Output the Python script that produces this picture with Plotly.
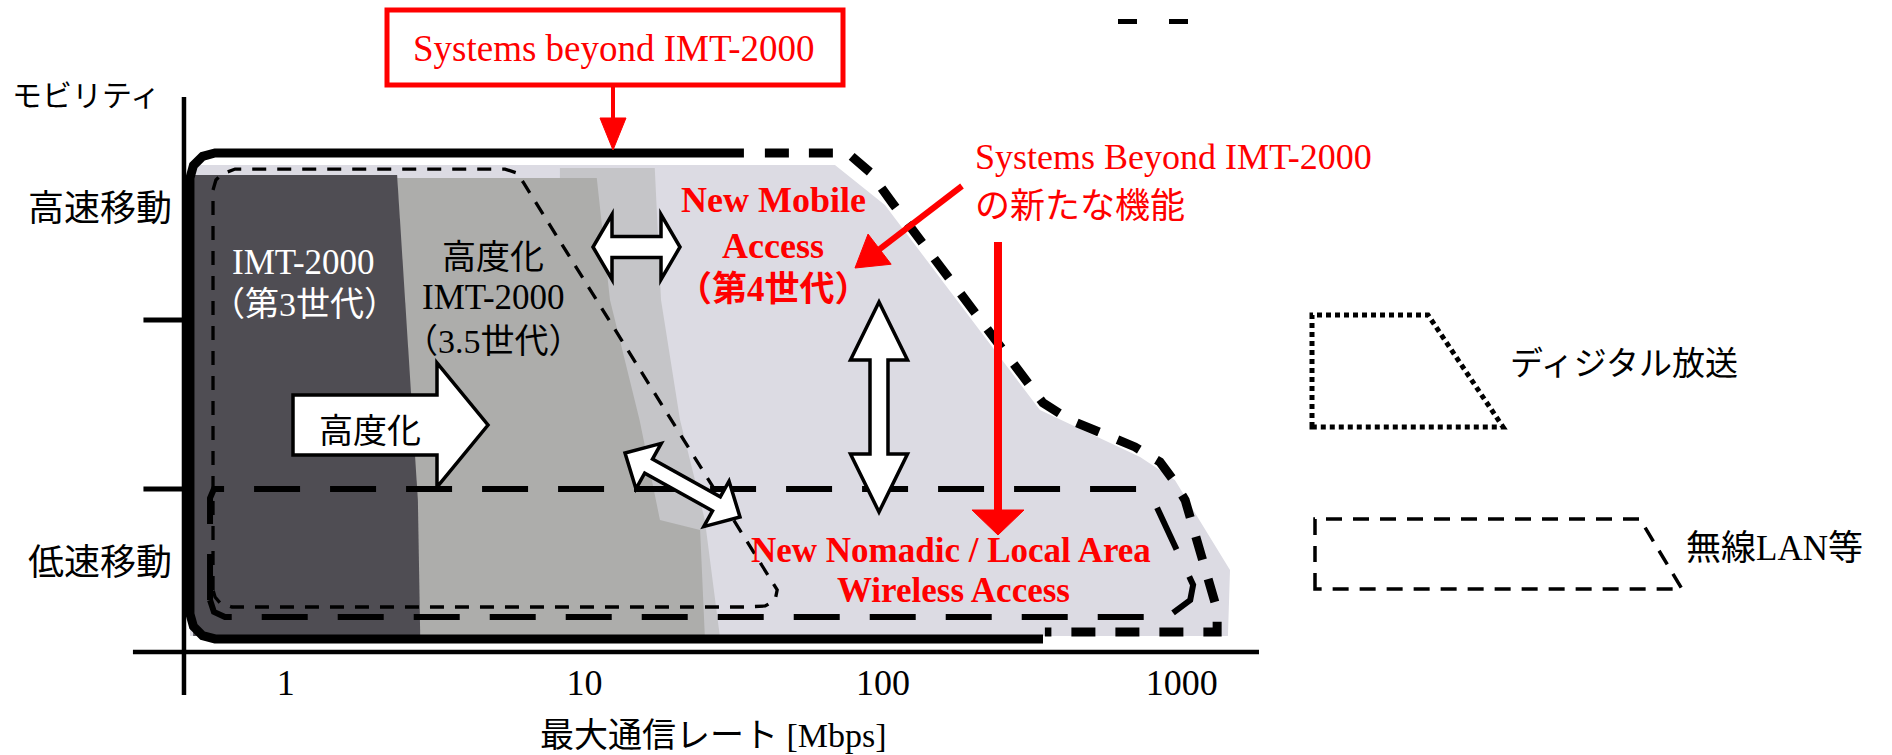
import math
import plotly.graph_objects as go

W, H = 1892, 755

# ---------------- axis data ----------------
rate_tickvals = [1, 10, 100, 1000]
rate_ticktext = ["1", "10", "100", "1000"]
mobility_tickvals = [0.544, 2.683]
mobility_ticktext = ["低速移動", "高速移動"]
mobility_boundaries = [0.985, 2.006]

axis_rate_span = [0.308, 1813]
axis_rate_origin = 0.4565
axis_mob_span = [-0.260, 3.353]
tick_rate_span = [0.334, 0.4565]

# ---------------- shaded areas (rate [Mbps], mobility level) ----------------
beyond_fill_rate = [0.478, 69.0, 101.4, 335, 725, 948, 1450, 1427, 0.478]
beyond_fill_mob = [2.943, 2.943, 2.701, 1.462, 1.178, 1.039, 0.495, 0.097, 0.097]
transition_rate = [8.28, 17.2, 18.05, 20.9, 25.3, 28.4, 8.28]
transition_mob = [2.924, 2.924, 2.127, 1.402, 0.798, 0.097, 0.097]
imt35_fill_rate = [2.36, 11.0, 12.18, 15.3, 17.9, 24.4, 25.3, 2.82]
imt35_fill_mob = [2.864, 2.864, 2.127, 1.402, 0.798, 0.737, 0.097, 0.097]
imt3_fill_rate = [0.490, 2.36, 2.51, 2.77, 2.82, 0.490]
imt3_fill_mob = [2.882, 2.882, 2.127, 0.918, 0.097, 0.097]

# ---------------- outlines ----------------
beyond_solid_rate = [343, 0.580, 0.527, 0.491, 0.478, 0.478, 0.491, 0.527, 0.580, 34.2]
beyond_solid_mob = [0.079, 0.079, 0.099, 0.154, 0.230, 2.864, 2.940, 2.995, 3.015, 3.015]
beyond_dash_rate = [40.2, 76.2, 90.3, 108, 343, 422.5, 697, 845, 926, 1026, 1313, 1313, 348]
beyond_dash_mob = [3.015, 3.015, 2.900, 2.707, 1.505, 1.402, 1.239, 1.148, 1.051, 0.918, 0.254, 0.121, 0.121]
imt_rate = [0.571, 0.571, 0.584, 0.612, 0.677, 5.42, 5.95, 6.23, 44.2, 43.5, 40.3, 34.5, 0.661, 0.603, 0.580, 0.571]
imt_mob = [0.375, 2.792, 2.852, 2.888, 2.918, 2.918, 2.894, 2.840, 0.375, 0.314, 0.278, 0.272, 0.272, 0.296, 0.332, 0.375]
nomadic_rate = [0.558, 0.558, 0.575, 714, 795, 1026, 1091, 1067, 934, 845, 0.626, 0.575, 0.558]
nomadic_mob = [0.314, 0.930, 0.985, 0.985, 0.937, 0.508, 0.405, 0.314, 0.236, 0.211, 0.211, 0.242, 0.314]

SERIF = "Liberation Serif, Noto Sans CJK JP"
SANS = "Noto Sans CJK JP"
RED = "#ff0000"

fig = go.Figure()


def poly(rates, mobs, fill=None, color="rgba(0,0,0,0)", width=0, dash="solid"):
    fig.add_trace(go.Scatter(
        x=rates, y=mobs, mode="lines",
        fill="toself" if fill else "none", fillcolor=fill,
        line=dict(color=color, width=width, dash=dash),
        hoverinfo="skip", showlegend=False))


# fills
poly(beyond_fill_rate, beyond_fill_mob, fill="#dcdbe3")
poly(transition_rate, transition_mob, fill="#c5c5c8")
poly(imt35_fill_rate, imt35_fill_mob, fill="#adadab")
poly(imt3_fill_rate, imt3_fill_mob, fill="#4f4d53")

# outlines
poly(imt_rate, imt_mob, color="black", width=3.3, dash="14px,11px")
poly(nomadic_rate, nomadic_mob, color="black", width=6, dash="46px,30px")
poly(beyond_solid_rate, beyond_solid_mob, color="black", width=9)
poly(beyond_dash_rate, beyond_dash_mob, color="black", width=9, dash="24px,20px")

# axis lines and tick marks
poly(axis_rate_span, [0, 0], color="black", width=4.5)
poly([axis_rate_origin, axis_rate_origin], axis_mob_span, color="black", width=4.5)
for b in mobility_boundaries:
    poly(tick_rate_span, [b, b], color="black", width=5)


# ---------------- decorations (figure pixel -> paper) ----------------
def P(x, y):
    return x / W, 1 - y / H


def path_of(pts, close=True):
    s = "M " + " L ".join("%.5f,%.5f" % P(x, y) for x, y in pts)
    return s + (" Z" if close else "")


def block_arrow(p0, p1, s, h, w, double):
    (x0, y0), (x1, y1) = p0, p1
    L = math.hypot(x1 - x0, y1 - y0)
    dx, dy = (x1 - x0) / L, (y1 - y0) / L
    nx, ny = -dy, dx
    b1 = (x1 - dx * h, y1 - dy * h)
    off = lambda p, k: (p[0] + nx * k, p[1] + ny * k)
    if double:
        b0 = (x0 + dx * h, y0 + dy * h)
        pts = [p0, off(b0, w), off(b0, s), off(b1, s), off(b1, w), p1,
               off(b1, -w), off(b1, -s), off(b0, -s), off(b0, -w)]
    else:
        pts = [off(p0, s), off(b1, s), off(b1, w), p1, off(b1, -w), off(b1, -s), off(p0, -s)]
    return pts


block_arrows = [
    ((293, 425), (488, 425), 30, 51, 62, False),
    ((593, 247), (680, 247), 10.5, 19, 32.5, True),
    ((879, 302), (879, 512), 9, 58, 28.5, True),
    ((625, 453), (740, 517), 8, 27, 26, True),
]
for p0, p1, s, h, w, dbl in block_arrows:
    fig.add_shape(type="path", xref="paper", yref="paper",
                  path=path_of(block_arrow(p0, p1, s, h, w, dbl)),
                  fillcolor="white", line=dict(color="black", width=3.5))

red_arrows = [
    ((613, 85), (613, 150), 4, 32, 13),
    ((962, 186), (855, 268), 6, 31, 19),
    ((998, 242), (998, 535), 8, 25, 26),
]
for (x0, y0), (x1, y1), lw, h, w in red_arrows:
    L = math.hypot(x1 - x0, y1 - y0)
    dx, dy = (x1 - x0) / L, (y1 - y0) / L
    bx, by = x1 - dx * h, y1 - dy * h
    fig.add_shape(type="path", xref="paper", yref="paper",
                  path=path_of([(x0, y0), (bx + dx * 2, by + dy * 2)], close=False),
                  line=dict(color=RED, width=lw))
    fig.add_shape(type="path", xref="paper", yref="paper",
                  path=path_of([(bx - dy * w, by + dx * w), (x1, y1), (bx + dy * w, by - dx * w)]),
                  fillcolor=RED, line=dict(color=RED, width=1))

# red title box
bx0, by0 = P(387, 85)
bx1, by1 = P(843, 10)
fig.add_shape(type="rect", xref="paper", yref="paper", x0=bx0, y0=by0, x1=bx1, y1=by1,
              line=dict(color=RED, width=5), fillcolor="rgba(0,0,0,0)")

# stray dashes top right
for xa, xb in [(1118, 1137), (1169, 1188)]:
    a0, c0 = P(xa, 24)
    a1, c1 = P(xb, 19)
    fig.add_shape(type="rect", xref="paper", yref="paper", x0=a0, y0=c0, x1=a1, y1=c1,
                  fillcolor="black", line=dict(width=0))

# legend swatches
fig.add_shape(type="path", xref="paper", yref="paper",
              path=path_of([(1312, 427), (1312, 315), (1428, 315), (1503, 427)]),
              line=dict(color="black", width=5, dash="5px,4px"))
fig.add_shape(type="path", xref="paper", yref="paper",
              path=path_of([(1315, 589), (1315, 519), (1640, 519), (1682, 589)]),
              line=dict(color="black", width=3.5, dash="16px,11px"))


def label(text, x, y, size, color="black", family=SERIF, xanchor="center"):
    px, py = P(x, y)
    fig.add_annotation(text=text, x=px, y=py, xref="paper", yref="paper", showarrow=False,
                       xanchor=xanchor, yanchor="middle",
                       font=dict(family=family, size=size, color=color))


label("Systems beyond IMT-2000", 614, 48, 37, RED)
label("モビリティ", 86, 93, 30, family=SANS)
label("Systems Beyond IMT-2000", 973, 157, 36, RED, xanchor="left")
label("の新たな機能", 973, 203, 35, RED, family=SANS, xanchor="left")
label("<b>New Mobile</b>", 773, 200, 36, RED)
label("<b>Access</b>", 773, 246, 36, RED)
label("<b>（第4世代）</b>", 773, 289, 35, RED)
label("IMT-2000", 303, 262, 35, "white")
label("（第3世代）", 304, 304, 34, "white")
label("高度化", 493, 255, 34, family=SANS)
label("IMT-2000", 493, 298, 35)
label("（3.5世代）", 493, 341, 34)
label("高度化", 370, 428, 34, family=SANS)
label("<b>New Nomadic / Local Area</b>", 951, 550, 35, RED)
label("<b>Wireless Access</b>", 953, 590, 35, RED)
label("最大通信レート [Mbps]", 713, 735, 34)
label("ディジタル放送", 1508, 361, 33, family=SANS, xanchor="left")
label("無線LAN等", 1684, 548, 35, xanchor="left")

fig.update_layout(
    width=W, height=H, margin=dict(l=0, r=0, t=0, b=0),
    paper_bgcolor="white", plot_bgcolor="white", showlegend=False,
    xaxis=dict(type="log", range=[-0.9565, 5.3776], domain=[0, 1],
               anchor="free", position=(H - 652) / H,
               tickvals=rate_tickvals, ticktext=rate_ticktext, ticks="",
               showgrid=False, zeroline=False, showline=False,
               ticklabelstandoff=6,
               tickfont=dict(family="Liberation Serif", size=36, color="black"),
               fixedrange=True),
    yaxis=dict(range=[-0.6224, 3.9396], domain=[0, 1],
               anchor="free", position=184 / W,
               tickvals=mobility_tickvals, ticktext=mobility_ticktext, ticks="",
               showgrid=False, zeroline=False, showline=False,
               ticklabelstandoff=12,
               tickfont=dict(family=SANS, size=36, color="black"),
               fixedrange=True),
)

fig.write_html("out.html", config={"displayModeBar": False},
               post_script="document.body.style.margin='0';")
